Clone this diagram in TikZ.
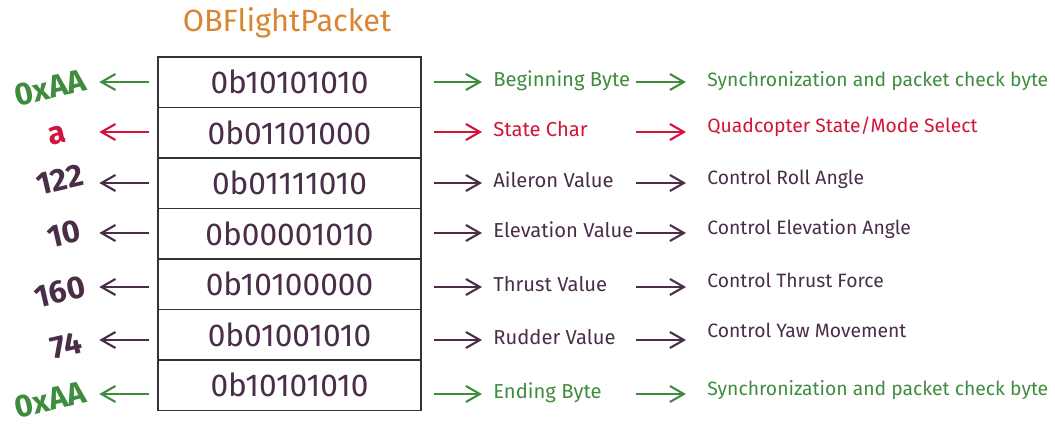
\documentclass[tikz,border=0pt]{standalone}
\usepackage{fontspec}
\setmainfont{Fira Sans}
\usetikzlibrary{arrows.meta}
\definecolor{obgreen}{RGB}{64,140,62}
\definecolor{obred}{RGB}{208,20,60}
\definecolor{obpurple}{RGB}{74,45,72}
\definecolor{oborange}{RGB}{217,134,50}
\tikzset{
  cell/.style={draw=black!80,line width=0.8pt,minimum width=5.26cm,minimum height=1.01cm,inner sep=0pt,text=obpurple,font=\fontsize{18}{21}\selectfont},
  val/.style={font=\bfseries\fontsize{18}{21}\selectfont,rotate=13,inner sep=0pt},
  lbl/.style={anchor=west,inner sep=0pt,text height=7.1pt,text depth=2pt,font=\fontsize{11.5}{14}\selectfont},
  dsc/.style={lbl,font=\fontsize{11}{13}\selectfont},
  arr/.style={-{Straight Barb[length=2.8mm,width=3.2mm]},line width=1.2pt}
}
\begin{document}
\begin{tikzpicture}[x=0.02cm,y=-0.02cm]
    \useasboundingbox (0,0) rectangle (1055,425);
    \node[text=oborange,font=\fontsize{17.5}{20}\selectfont] (title) at (287,23) {OBFlightPacket};
    % packet bytes ==========================================
    \node[cell] (r1) at (289.5,82.2)  {0b10101010};
    \node[cell] (r2) at (289.5,132.7) {0b01101000};
    \node[cell] (r3) at (289.5,183.2) {0b01111010};
    \node[cell] (r4) at (289.5,233.7) {0b00001010};
    \node[cell] (r5) at (289.5,284.2) {0b10100000};
    \node[cell] (r6) at (289.5,334.7) {0b01001010};
    \node[cell] (r7) at (289.5,385.2) {0b10101010};
    % decoded values ========================================
    \node[val,text=obgreen]  (v1) at (50,88)  {0xAA};
    \node[val,text=obred]    (v2) at (57,135) {a};
    \node[val,text=obpurple] (v3) at (60,180) {122};
    \node[val,text=obpurple] (v4) at (64,234) {10};
    \node[val,text=obpurple] (v5) at (60,292) {160};
    \node[val,text=obpurple] (v6) at (66,346) {74};
    \node[val,text=obgreen]  (v7) at (50,400) {0xAA};
    % field names ===========================================
    \node[lbl,text=obgreen]  (l1) at (493,82)  {Beginning Byte};
    \node[lbl,text=obred]    (l2) at (493,132) {State Char};
    \node[lbl,text=obpurple] (l3) at (493,183) {Aileron Value};
    \node[lbl,text=obpurple] (l4) at (493,233) {Elevation Value};
    \node[lbl,text=obpurple] (l5) at (493,287) {Thrust Value};
    \node[lbl,text=obpurple] (l6) at (493,340) {Rudder Value};
    \node[lbl,text=obgreen]  (l7) at (493,394) {Ending Byte};
    % meaning ===============================================
    \node[dsc,text=obgreen]  (d1) at (707,82)  {Synchronization and packet check byte};
    \node[dsc,text=obred]    (d2) at (707,128) {Quadcopter State/Mode Select};
    \node[dsc,text=obpurple] (d3) at (707,180) {Control Roll Angle};
    \node[dsc,text=obpurple] (d4) at (707,230) {Control Elevation Angle};
    \node[dsc,text=obpurple] (d5) at (707,283) {Control Thrust Force};
    \node[dsc,text=obpurple] (d6) at (707,333) {Control Yaw Movement};
    \node[dsc,text=obgreen]  (d7) at (707,391) {Synchronization and packet check byte};
    % arrows ================================================
    \foreach \i/\c in {1/obgreen,2/obred,3/obpurple,4/obpurple,5/obpurple,6/obpurple,7/obgreen} {
      \draw[arr,\c] ([xshift=-0.16cm]r\i.west |- l\i.west) -- ([xshift=-1.16cm]r\i.west |- l\i.west);
      \draw[arr,\c] ([xshift=0.24cm]r\i.east |- l\i.west) -- ([xshift=-0.22cm]l\i.west);
      \draw[arr,\c] ([xshift=-1.42cm]d\i.west |- l\i.west) -- ([xshift=-0.42cm]d\i.west |- l\i.west);
    }
\end{tikzpicture}
\end{document}
